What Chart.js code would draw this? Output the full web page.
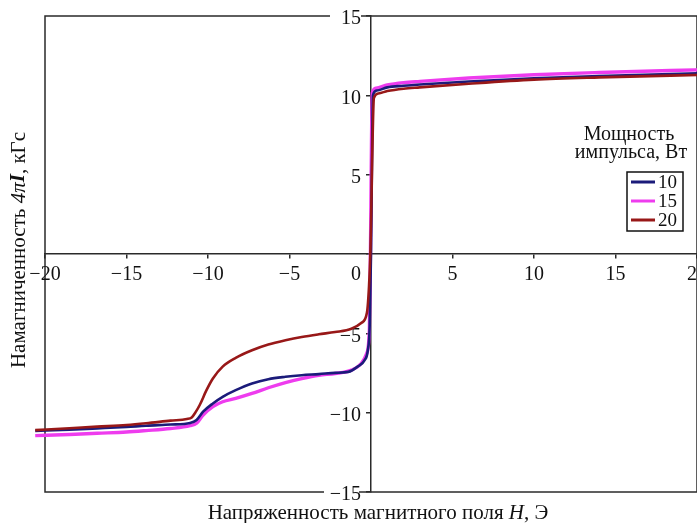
<!DOCTYPE html>
<html>
<head>
<meta charset="utf-8">
<script src="https://cdn.jsdelivr.net/npm/chart.js@4/dist/chart.umd.min.js"></script>
<style>
  html, body { margin: 0; padding: 0; background: #fff; overflow: hidden; }
  #wrap { width: 712px; height: 523px; }
</style>
</head>
<body>
<div id="wrap"><canvas id="chart"></canvas></div>
<script>
// pulse power, W
const seriesLabels = ["10", "15", "20"];

// field H (Oe) and magnetization 4πI (kG)
const h10 = [-20.6, -18.5, -16.8, -15, -13.8, -12.3, -11.1, -10.7, -10.3, -9.7, -9.1, -8.3, -7.3, -6.3, -5.25, -4.25, -3.2, -2.2, -1.4, -0.8, -0.4, -0.2, -0.08, 0.0, 0.12, 0.35, 1.0, 2.0, 3.0, 6.0, 10.0, 14.0, 20.6];
const m10 = [-11.15, -11.07, -10.99, -10.9, -10.82, -10.75, -10.65, -10.46, -9.94, -9.42, -9.0, -8.58, -8.16, -7.89, -7.74, -7.64, -7.57, -7.49, -7.43, -7.08, -6.7, -6.1, -4.5, 0.0, 10.0, 10.3, 10.5, 10.6, 10.68, 10.87, 11.07, 11.22, 11.4];

const h15 = [-20.6, -18.5, -16.8, -15, -13.8, -12.3, -11.1, -10.7, -10.3, -9.7, -9.1, -8.3, -7.3, -6.3, -5.25, -4.25, -3.2, -2.2, -1.2, -0.6, -0.28, -0.1, -0.04, 0.08, 0.3, 1.0, 2.0, 3.0, 6.0, 10.0, 14.0, 20.6];
const m15 = [-11.45, -11.38, -11.3, -11.22, -11.13, -11.0, -10.82, -10.67, -10.15, -9.62, -9.31, -9.1, -8.79, -8.43, -8.1, -7.85, -7.64, -7.53, -7.32, -6.9, -6.3, -4.8, -0.3, 10.15, 10.45, 10.65, 10.8, 10.88, 11.09, 11.3, 11.44, 11.62];

const h20 = [-20.6, -18.5, -16.8, -15, -13.8, -12.3, -11.3, -11.0, -10.75, -10.5, -10.1, -9.7, -9.1, -8.3, -7.3, -6.3, -5.25, -4.25, -3.2, -2.2, -1.2, -0.6, -0.25, -0.12, -0.04, 0.18, 0.45, 1.0, 2.0, 3.0, 6.0, 10.0, 14.0, 20.6];
const m20 = [-11.1, -10.98, -10.88, -10.78, -10.67, -10.5, -10.4, -10.3, -9.95, -9.5, -8.6, -7.85, -7.1, -6.55, -6.07, -5.71, -5.44, -5.23, -5.06, -4.92, -4.71, -4.35, -3.7, -2.0, 0.1, 9.84, 10.12, 10.27, 10.42, 10.5, 10.73, 10.99, 11.13, 11.3];

const xTicks = [-20, -15, -10, -5, 0, 5, 10, 15, 20];
const yTicks = [-15, -10, -5, 0, 5, 10, 15];

const SERIF = '"Liberation Serif", "DejaVu Serif", serif';
const colors = ["#1b1b7a", "#ee3cee", "#981818"];

const zip = (xs, ys) => xs.map((x, i) => ({ x: x, y: ys[i] }));
const fmt = (v) => (v < 0 ? "\u2212" + Math.abs(v) : String(v));

// box around the plot + white gaps behind the ±15 labels
const frame = {
  id: "frame",
  beforeDraw(chart) {
    const { ctx, chartArea: a, scales } = chart;
    ctx.save();
    ctx.strokeStyle = "#2a2a2a";
    ctx.lineWidth = 1.5;
    ctx.strokeRect(a.left, a.top, a.right - a.left, a.bottom - a.top);
    const x0 = scales.x.getPixelForValue(0);
    ctx.fillStyle = "#fff";
    ctx.fillRect(x0 - 41, a.top - 3, 31, 6);
    ctx.fillRect(x0 - 47, a.bottom - 3, 35, 6);
    ctx.restore();
  },
};

function drawRuns(ctx, runs, x, y) {
  let total = 0;
  runs.forEach((r) => {
    ctx.font = r.f;
    total += ctx.measureText(r.t).width;
  });
  let cx = x - total / 2;
  runs.forEach((r) => {
    ctx.font = r.f;
    ctx.fillText(r.t, cx, y);
    cx += ctx.measureText(r.t).width;
  });
}

// axis titles with italic symbols
const titles = {
  id: "titles",
  afterDraw(chart) {
    const { ctx } = chart;
    const n = "21px " + SERIF;
    const it = "italic 21px " + SERIF;
    ctx.save();
    ctx.fillStyle = "#111";
    ctx.textAlign = "left";
    ctx.textBaseline = "middle";
    drawRuns(ctx, [
      { t: "Напряженность магнитного поля ", f: n },
      { t: "H", f: it },
      { t: ", Э", f: n },
    ], 378, 513);
    ctx.translate(19, 250);
    ctx.rotate(-Math.PI / 2);
    drawRuns(ctx, [
      { t: "Намагниченность ", f: n },
      { t: "4π", f: it },
      { t: "I", f: "italic bold 21px " + SERIF },
      { t: ", кГс", f: n },
    ], 0, 0);
    ctx.restore();
  },
};

// legend box with title, as in the figure
const legendBox = {
  id: "legendBox",
  afterDraw(chart) {
    const { ctx } = chart;
    ctx.save();
    ctx.fillStyle = "#111";
    ctx.font = "20px " + SERIF;
    ctx.textAlign = "center";
    ctx.textBaseline = "middle";
    ctx.fillText("Мощность", 629, 135);
    ctx.fillText("импульса, Вт", 631, 153);
    ctx.fillStyle = "#fff";
    ctx.fillRect(627, 172, 56, 59);
    ctx.strokeStyle = "#111";
    ctx.lineWidth = 1.5;
    ctx.strokeRect(627, 172, 56, 59);
    ctx.textAlign = "left";
    ctx.font = "19px " + SERIF;
    chart.data.datasets.forEach((ds, i) => {
      const y = 182 + i * 19;
      ctx.strokeStyle = ds.borderColor;
      ctx.lineWidth = 3;
      ctx.beginPath();
      ctx.moveTo(631, y);
      ctx.lineTo(655, y);
      ctx.stroke();
      ctx.fillStyle = "#111";
      ctx.fillText(ds.label, 658, y + 1);
    });
    ctx.restore();
  },
};

const tickFont = { family: SERIF, size: 20 };

new Chart(document.getElementById("chart"), {
  type: "line",
  data: {
    datasets: [
      { label: seriesLabels[0], data: zip(h10, m10), borderColor: colors[0], borderWidth: 2.6, order: 2 },
      { label: seriesLabels[1], data: zip(h15, m15), borderColor: colors[1], borderWidth: 3.4, order: 3 },
      { label: seriesLabels[2], data: zip(h20, m20), borderColor: colors[2], borderWidth: 2.6, order: 1 },
    ].map((d) => Object.assign(d, {
      pointRadius: 0,
      fill: false,
      clip: false,
      cubicInterpolationMode: "monotone",
    })),
  },
  options: {
    responsive: true,
    maintainAspectRatio: false,
    animation: false,
    layout: { padding: { left: 45, top: 16, right: 10, bottom: 31 } },
    plugins: {
      legend: { display: false },
      tooltip: { enabled: false },
    },
    scales: {
      x: {
        type: "linear",
        min: xTicks[0],
        max: xTicks[xTicks.length - 1],
        position: { y: 0 },
        afterBuildTicks: (s) => { s.ticks = xTicks.map((v) => ({ value: v })); },
        ticks: {
          autoSkip: false,
          maxRotation: 0,
          padding: 5,
          color: "#111",
          font: tickFont,
          callback: (v) => (v === 0 ? "0      " : fmt(v)),
        },
        grid: { drawOnChartArea: false, tickLength: 4, color: "#2a2a2a", lineWidth: 1.5 },
        border: { color: "#2a2a2a", width: 1.5 },
      },
      y: {
        type: "linear",
        min: yTicks[0],
        max: yTicks[yTicks.length - 1],
        position: { x: 0 },
        afterBuildTicks: (s) => { s.ticks = yTicks.map((v) => ({ value: v })); },
        ticks: {
          autoSkip: false,
          labelOffset: 3,
          color: "#111",
          font: tickFont,
          callback: (v) => (v === 0 ? "" : fmt(v) + "  "),
        },
        grid: { drawOnChartArea: false, tickLength: 4, color: "#2a2a2a", lineWidth: 1.5 },
        border: { color: "#2a2a2a", width: 1.5 },
      },
    },
  },
  plugins: [frame, titles, legendBox],
});
</script>
</body>
</html>
